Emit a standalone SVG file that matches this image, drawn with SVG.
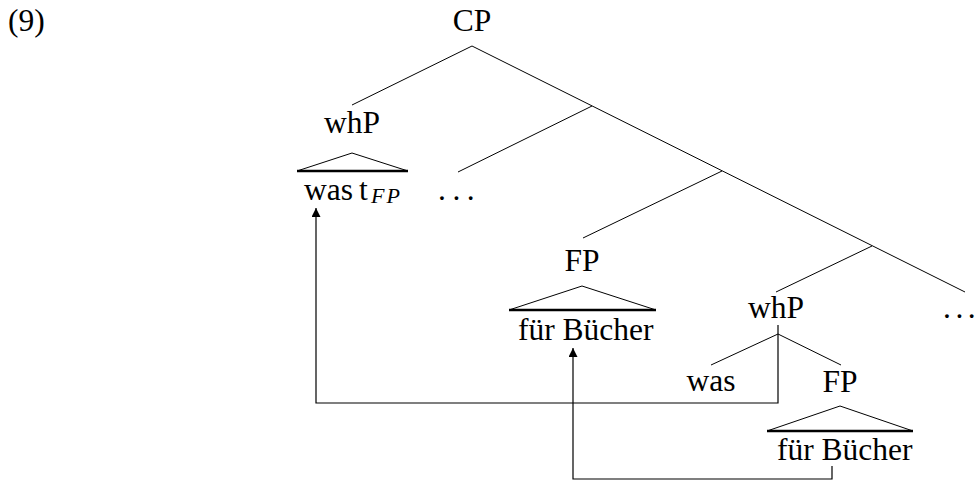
<svg xmlns="http://www.w3.org/2000/svg" width="975" height="480" viewBox="0 0 975 480">
<style>
text{font-family:"Liberation Serif","Times New Roman",serif;font-size:31.5px;fill:#000}
.n{text-anchor:middle}
.e{stroke:#000;stroke-width:1;fill:none}
.tri{stroke:#000;stroke-width:1;fill:none}
.base{stroke:#000;stroke-width:2.6}
.c{stroke:#000;stroke-width:1.2;fill:none}
.sub{font-style:italic;font-size:22px;letter-spacing:2px}
</style>
<defs>
<marker id="ah" markerUnits="userSpaceOnUse" markerWidth="10" markerHeight="10" refX="9" refY="4.5" orient="auto">
<path d="M0,0 L9,4.5 L0,9 Z" fill="#000"/>
</marker>
</defs>
<rect width="975" height="480" fill="#fff"/>
<text x="8" y="31">(9)</text>
<g id="edges">
<line class="e" x1="472" y1="46" x2="352" y2="105"/>
<line class="e" x1="472" y1="46" x2="965" y2="292"/>
<line class="e" x1="592" y1="106" x2="458" y2="172"/>
<line class="e" x1="722" y1="171" x2="583" y2="238"/>
<line class="e" x1="872" y1="246" x2="776" y2="292"/>
<line class="e" x1="778" y1="334" x2="711" y2="365"/>
<line class="e" x1="778" y1="334" x2="841" y2="365"/>
</g>
<g id="CP"><text class="n" x="472" y="31">CP</text></g>
<g id="whP1">
<text class="n" x="352" y="133">whP</text>
<polyline class="tri" points="297,171 352,153 408,171"/>
<line class="base" x1="297" y1="171" x2="408" y2="171"/>
<text x="304" y="200">was<tspan x="359">t</tspan><tspan class="sub" x="371" dy="3">FP</tspan></text>
</g>
<g id="dots1"><text x="438" y="200">.<tspan dx="6.5">.</tspan><tspan dx="6.5">.</tspan></text></g>
<g id="FP1">
<text class="n" x="582" y="271">FP</text>
<polyline class="tri" points="509,310 582,286 656,310"/>
<line class="base" x1="509" y1="310" x2="656" y2="310"/>
<text x="518" y="340">für Bücher</text>
</g>
<g id="whP2"><text class="n" x="776" y="318">whP</text></g>
<g id="dots2"><text x="943" y="318">.<tspan dx="4.5">.</tspan><tspan dx="4.5">.</tspan></text></g>
<g id="was"><text class="n" x="711" y="391">was</text></g>
<g id="FP2">
<text class="n" x="840" y="392">FP</text>
<polyline class="tri" points="767,431 840,406 913,431"/>
<line class="base" x1="767" y1="431" x2="913" y2="431"/>
<text x="777" y="460">für Bücher</text>
</g>
<g id="connectors">
<path class="c" d="M778,325 V403 H316 V208" marker-end="url(#ah)"/>
<path class="c" d="M832,466 V479 H573 V348" marker-end="url(#ah)"/>
</g>
</svg>
